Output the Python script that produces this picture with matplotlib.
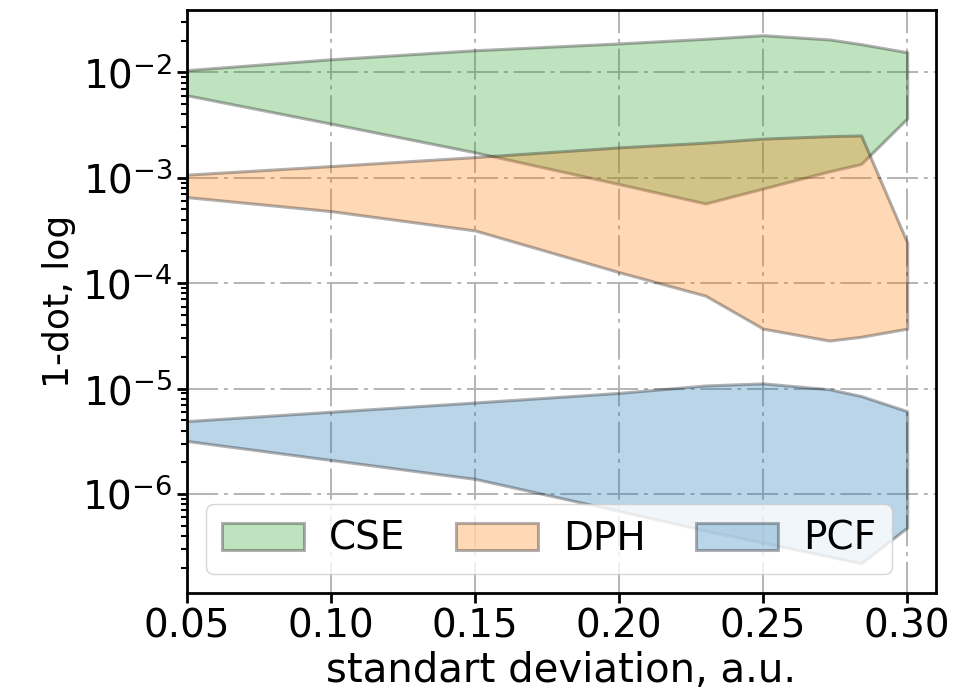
import numpy as np
import matplotlib
matplotlib.use("Agg")
import matplotlib.pyplot as plt

# standard deviation values (x) shared by all three bands
sigma = [0.05, 0.10, 0.15, 0.20, 0.23, 0.25, 0.273, 0.284, 0.30]

# upper / lower bounds of 1-dot for each method
cse_hi = [1.05e-2, 1.33e-2, 1.62e-2, 1.88e-2, 2.08e-2, 2.25e-2, 2.05e-2, 1.85e-2, 1.55e-2]
cse_lo = [6.05e-3, 3.26e-3, 1.74e-3, 8.7e-4, 5.7e-4, 7.9e-4, 1.15e-3, 1.35e-3, 3.65e-3]

dph_hi = [1.07e-3, 1.29e-3, 1.57e-3, 1.94e-3, 2.15e-3, 2.35e-3, 2.48e-3, 2.52e-3, 2.43e-4]
dph_lo = [6.55e-4, 4.82e-4, 3.16e-4, 1.27e-4, 7.6e-5, 3.7e-5, 2.85e-5, 3.1e-5, 3.7e-5]

pcf_hi = [4.92e-6, 6.03e-6, 7.38e-6, 9.1e-6, 1.07e-5, 1.12e-5, 9.85e-6, 8.5e-6, 6.1e-6]
pcf_lo = [3.18e-6, 2.1e-6, 1.39e-6, 6.9e-7, 4.5e-7, 3.45e-7, 2.55e-7, 2.2e-7, 4.8e-7]

labels = ["CSE", "DPH", "PCF"]
colors = ["tab:green", "tab:orange", "tab:blue"]


def run():
    plt.rcParams["font.family"] = "DejaVu Sans"
    plt.rcParams["font.size"] = 28

    fig = plt.figure(figsize=(9.71, 6.98), dpi=100)
    ax = fig.add_axes([187 / 971, 1 - 593 / 698, (936 - 187) / 971, (593 - 10) / 698])

    bands = [(cse_lo, cse_hi), (dph_lo, dph_hi), (pcf_lo, pcf_hi)]
    for (lo, hi), lab, c in zip(bands, labels, colors):
        ax.fill_between(sigma, lo, hi, facecolor=c, edgecolor="k",
                        alpha=0.3, linewidth=2.2, label=lab)

    ax.set_yscale("log")
    ax.set_xlim(0.05, 0.31)
    ax.set_ylim(1.15e-7, 3.9e-2)
    ax.set_xticks([0.05, 0.10, 0.15, 0.20, 0.25, 0.30])
    ax.set_xticklabels(["0.05", "0.10", "0.15", "0.20", "0.25", "0.30"])

    ax.grid(True, which="major", linestyle=(0, (16, 3, 2, 3)),
            color="#b4b4b4", linewidth=1.4)
    ax.set_axisbelow(True)
    for s in ax.spines.values():
        s.set_linewidth(2)
    ax.tick_params(which="major", width=2, length=7)
    ax.tick_params(which="minor", width=1.5, length=4)

    ax.set_xlabel("standart deviation, a.u.", fontsize=29)
    ax.set_ylabel("1-dot, log", fontsize=26)
    ax.legend(loc="lower left", ncol=3, handlelength=2.1, columnspacing=1.3,
              handletextpad=0.65)

    fig.savefig("out.png", dpi=100)


if __name__ == "__main__":
    run()
